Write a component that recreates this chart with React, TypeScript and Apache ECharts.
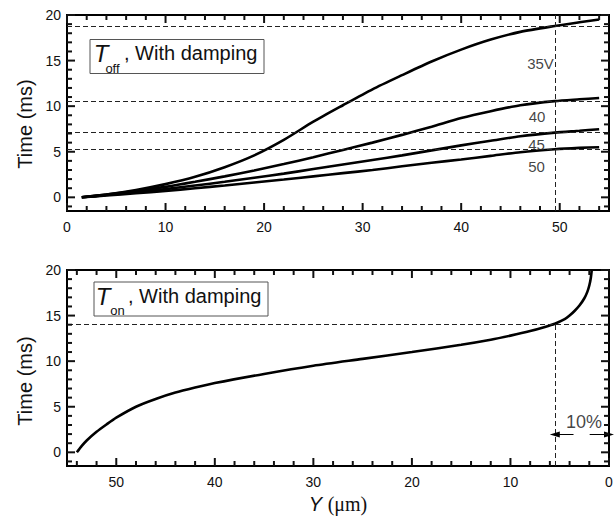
import { useEffect, useRef } from "react";
import * as echarts from "echarts";

const FONT = '"Liberation Sans", Arial, Helvetica, sans-serif';
const SERIF = '"Liberation Serif", "DejaVu Serif", "Times New Roman", serif';

// Displacement Y (μm) sampled along the T_off curves
const offPos = [1.5, 4, 7, 10, 13, 16, 19, 22, 25, 28, 31, 34, 37, 40, 43, 46, 49.5, 52, 54];
// Switch-off time (ms) for each drive voltage
const off35 = [0, 0.3, 0.8, 1.45, 2.25, 3.3, 4.6, 6.3, 8.3, 10.1, 11.85, 13.4, 14.9, 16.2, 17.3, 18.15, 18.8, 19.2, 19.5];
const off40 = [0, 0.3, 0.7, 1.15, 1.7, 2.3, 2.95, 3.65, 4.4, 5.2, 6.0, 6.85, 7.75, 8.7, 9.45, 10.1, 10.55, 10.75, 10.9];
const off45 = [0, 0.25, 0.55, 0.9, 1.3, 1.7, 2.15, 2.6, 3.1, 3.6, 4.1, 4.6, 5.15, 5.7, 6.2, 6.7, 7.1, 7.3, 7.47];
const off50 = [0, 0.2, 0.45, 0.7, 1.0, 1.3, 1.62, 1.95, 2.3, 2.65, 3.0, 3.4, 3.8, 4.15, 4.55, 4.95, 5.27, 5.42, 5.5];
const voltLabels = ["35V", "40", "45", "50"];
const voltLabelX = [48.05, 47.7, 47.65, 47.65];
const voltLabelY = [14.7, 8.87, 5.8, 3.4];

// T_on curve: displacement Y (μm) and switch-on time (ms)
const onPos = [54, 53.5, 53, 52, 51, 50, 48, 46, 44, 42, 40, 35, 30, 25, 20, 15, 12, 10, 8, 6.5, 5.5, 4.5, 4, 3.5, 3, 2.5, 2.2, 2, 1.85, 1.75];
const onTime = [0, 0.7, 1.3, 2.25, 3.05, 3.8, 5.0, 5.85, 6.55, 7.1, 7.6, 8.6, 9.5, 10.25, 11.0, 11.8, 12.35, 12.8, 13.3, 13.75, 14.1, 14.6, 15.0, 15.5, 16.1, 16.9, 17.6, 18.3, 19.1, 20];

// Full gap, 90 % travel point and 10 % remaining gap
const gapFull = 55;
const travel90 = 49.5;
const remain10 = 5.5;

// Axis ranges, tick positions and tick labels
const yMin = -1.5;
const yMax = 20;
const xLabels = [0, 10, 20, 30, 40, 50];
const yLabels = [0, 5, 10, 15, 20];
const xMinorTicks = [2, 4, 6, 8, 12, 14, 16, 18, 22, 24, 26, 28, 32, 34, 36, 38, 42, 44, 46, 48, 52, 54];
const yMinorTicks = [-1, 1, 2, 3, 4, 6, 7, 8, 9, 11, 12, 13, 14, 16, 17, 18, 19];

const MAJOR_PX = 8;
const MINOR_PX = 5;

const pair = (xs: number[], ys: number[]) => xs.map((x, i) => [x, ys[i]]);
const labelStyle = { fontSize: 14, fontFamily: FONT, color: "#111" };

function xAxisFor(gridIndex: number, inverse: boolean, name?: string) {
  return {
    type: "value",
    gridIndex,
    min: 0,
    max: gapFull,
    inverse,
    splitLine: { show: false },
    axisLine: { show: false },
    axisTick: { show: false },
    axisLabel: { show: true, customValues: xLabels, margin: 9, ...labelStyle },
    ...(name
      ? {
          name,
          nameLocation: "middle",
          nameGap: 28,
          nameTextStyle: {
            fontSize: 20,
            fontFamily: FONT,
            color: "#111",
            rich: {
              i: { fontSize: 20, fontStyle: "italic", fontFamily: FONT, color: "#111" },
              s: { fontSize: 20, fontFamily: SERIF, color: "#111" },
            },
          },
        }
      : {}),
  };
}

function yAxisFor(gridIndex: number) {
  return {
    type: "value",
    gridIndex,
    min: yMin,
    max: yMax,
    splitLine: { show: false },
    axisLine: { show: false },
    axisTick: { show: false },
    axisLabel: { show: true, customValues: yLabels, margin: 6, ...labelStyle },
  };
}

const dashed = { color: "#222", width: 1, type: [5, 3] };

function curve(xs: number[], ys: number[], axisIndex: number, extra: object = {}) {
  return {
    type: "line",
    xAxisIndex: axisIndex,
    yAxisIndex: axisIndex,
    data: pair(xs, ys),
    showSymbol: false,
    smooth: 0.25,
    lineStyle: { color: "#000", width: 2.6 },
    silent: true,
    ...extra,
  };
}

const at90 = offPos.indexOf(travel90);
const offCurves = [off35, off40, off45, off50];
const onAt10 = onTime[onPos.indexOf(remain10)];
const arrowY = 1.95;
const arrowLeftEnd = 3.6;
const arrowRightStart = 1.96;

const frame = { show: true, borderColor: "#000", borderWidth: 2, backgroundColor: "transparent" };

const staticGraphic = [
  // axis titles
  {
    type: "text",
    x: 25,
    y: 124,
    rotation: Math.PI / 2,
    style: { text: "Time (ms)", fontSize: 20, fontFamily: FONT, fill: "#111", align: "center", verticalAlign: "middle" },
  },
  {
    type: "text",
    x: 25,
    y: 381,
    rotation: Math.PI / 2,
    style: { text: "Time (ms)", fontSize: 20, fontFamily: FONT, fill: "#111", align: "center", verticalAlign: "middle" },
  },
  // T_off legend box
  { type: "rect", shape: { x: 90, y: 39.5, width: 174, height: 34 }, style: { fill: "#fff", stroke: "#555", lineWidth: 1 } },
  {
    type: "text",
    x: 101,
    y: 53,
    style: { text: "T", fontSize: 24, fontStyle: "italic", fontFamily: FONT, fill: "#111", align: "center", verticalAlign: "middle" },
  },
  {
    type: "text",
    x: 112.5,
    y: 68,
    style: { text: "off", fontSize: 13, fontFamily: FONT, fill: "#111", align: "center", verticalAlign: "middle" },
  },
  {
    type: "text",
    x: 124,
    y: 53,
    style: { text: ", With damping", fontSize: 20, fontFamily: FONT, fill: "#111", align: "left", verticalAlign: "middle" },
  },
  // T_on legend box
  { type: "rect", shape: { x: 94, y: 282, width: 174, height: 34 }, style: { fill: "#fff", stroke: "#555", lineWidth: 1 } },
  {
    type: "text",
    x: 103,
    y: 296,
    style: { text: "T", fontSize: 24, fontStyle: "italic", fontFamily: FONT, fill: "#111", align: "center", verticalAlign: "middle" },
  },
  {
    type: "text",
    x: 117.5,
    y: 310,
    style: { text: "on", fontSize: 13, fontFamily: FONT, fill: "#111", align: "center", verticalAlign: "middle" },
  },
  {
    type: "text",
    x: 128,
    y: 296,
    style: { text: ", With damping", fontSize: 20, fontFamily: FONT, fill: "#111", align: "left", verticalAlign: "middle" },
  },
];

const option = {
  animation: false,
  backgroundColor: "#fff",
  grid: [
    { left: 67, top: 15, width: 542, height: 196, ...frame },
    { left: 67, top: 270, width: 542, height: 196, ...frame },
  ],
  xAxis: [xAxisFor(0, false), xAxisFor(1, true, "{i|Y} {s|(μm)}")],
  yAxis: [yAxisFor(0), yAxisFor(1)],
  series: [
    curve(offPos, off35, 0, {
      markLine: {
        silent: true,
        symbol: "none",
        label: { show: false },
        lineStyle: dashed,
        data: [...offCurves.map((c) => ({ yAxis: c[at90] })), { xAxis: travel90 }],
      },
    }),
    curve(offPos, off40, 0),
    curve(offPos, off45, 0),
    curve(offPos, off50, 0),
    {
      type: "scatter",
      xAxisIndex: 0,
      yAxisIndex: 0,
      symbolSize: 0,
      silent: true,
      data: voltLabels.map((t, i) => [voltLabelX[i], voltLabelY[i], t]),
      label: {
        show: true,
        position: "inside",
        formatter: (p: any) => p.value[2],
        fontSize: 15,
        fontFamily: FONT,
        color: "#111",
      },
    },
    curve(onPos, onTime, 1, {
      markLine: {
        silent: true,
        symbol: "none",
        label: { show: false },
        lineStyle: dashed,
        data: [
          { yAxis: onAt10 },
          [{ coord: [remain10, yMin] }, { coord: [remain10, onAt10] }],
        ],
      },
    }),
    {
      type: "line",
      xAxisIndex: 1,
      yAxisIndex: 1,
      data: [],
      silent: true,
      markLine: {
        silent: true,
        symbol: ["none", "triangle"],
        symbolSize: [6, 10],
        label: { show: false },
        lineStyle: { color: "#000", width: 1, type: "solid" },
        data: [
          [{ coord: [arrowLeftEnd, arrowY] }, { coord: [remain10, arrowY] }],
          [{ coord: [arrowRightStart, arrowY] }, { coord: [0, arrowY] }],
        ],
      },
    },
    {
      type: "scatter",
      xAxisIndex: 1,
      yAxisIndex: 1,
      symbolSize: 0,
      silent: true,
      data: [[2.54, 3.3, "10%"]],
      label: {
        show: true,
        position: "inside",
        formatter: (p: any) => p.value[2],
        fontSize: 18,
        fontFamily: FONT,
        color: "#111",
      },
    },
  ],
  graphic: staticGraphic,
};

// Inward ticks on all four sides of each frame, placed with the axes' own scales
function frameTicks(chart: echarts.ECharts) {
  const out: any[] = [];
  const style = { stroke: "#111111", lineWidth: 2 };
  [0, 1].forEach((gridIndex) => {
    const px = (x: number, y: number) => chart.convertToPixel({ gridIndex }, [x, y]) as number[];
    const top = px(0, yMax)[1];
    const bottom = px(0, yMin)[1];
    const left = Math.min(px(0, 0)[0], px(gapFull, 0)[0]);
    const right = Math.max(px(0, 0)[0], px(gapFull, 0)[0]);
    const addX = (v: number, len: number) => {
      const x = px(v, 0)[0];
      out.push({ type: "line", silent: true, z: 50, shape: { x1: x, y1: bottom, x2: x, y2: bottom - len }, style });
      out.push({ type: "line", silent: true, z: 50, shape: { x1: x, y1: top, x2: x, y2: top + len }, style });
    };
    const addY = (v: number, len: number) => {
      const y = px(0, v)[1];
      out.push({ type: "line", silent: true, z: 50, shape: { x1: left, y1: y, x2: left + len, y2: y }, style });
      out.push({ type: "line", silent: true, z: 50, shape: { x1: right, y1: y, x2: right - len, y2: y }, style });
    };
    xLabels.forEach((v) => addX(v, MAJOR_PX));
    xMinorTicks.forEach((v) => addX(v, MINOR_PX));
    yLabels.forEach((v) => addY(v, MAJOR_PX));
    yMinorTicks.forEach((v) => addY(v, MINOR_PX));
  });
  return out;
}

export default function App() {
  const ref = useRef<HTMLDivElement>(null);
  useEffect(() => {
    const chart = echarts.init(ref.current!, null, { renderer: "svg" });
    chart.setOption(option as any);
    chart.setOption({ graphic: [...staticGraphic, ...frameTicks(chart)] } as any);
    return () => chart.dispose();
  }, []);
  return (
    <div
      ref={ref}
      style={{ position: "fixed", left: 0, top: 0, width: 616, height: 519, background: "#fff" }}
    />
  );
}
